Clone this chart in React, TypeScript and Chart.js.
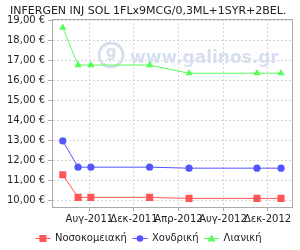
import React, { useEffect, useRef } from "react";
import { Chart, registerables } from "chart.js";

Chart.register(...registerables);

const titleText = "INFERGEN INJ SOL 1FLx9MCG/0,3ML+1SYR+2BEL.";
const dates = ["2011-05-20", "2011-07-01", "2011-08-05", "2012-01-13", "2012-04-30", "2012-11-02", "2013-01-07"];
const hospital = [11.3, 10.17, 10.17, 10.17, 10.12, 10.12, 10.12];
const wholesale = [12.99, 11.68, 11.68, 11.68, 11.63, 11.63, 11.63];
const retail = [18.65, 16.78, 16.78, 16.78, 16.37, 16.37, 16.37];
const seriesNames = ["Νοσοκομειακή", "Χονδρική", "Λιανική"];
const tickDates = ["2011-08-01", "2011-12-01", "2012-04-01", "2012-08-01", "2012-12-01"];
const tickLabels = ["Αυγ-2011", "Δεκ-2011", "Απρ-2012", "Αυγ-2012", "Δεκ-2012"];
const yTicks = [10, 11, 12, 13, 14, 15, 16, 17, 18, 19];
const xMinDate = "2011-04-21";
const xMaxDate = "2013-02-06";

const day = (s: string) => Date.parse(s + "T00:00:00Z") / 86400000;

const colors = ["#ff5555", "#5555ff", "#55ff55"];
const styles = ["rect", "circle", "triangle"];
const radii = [5, 3.6, 4.2];

function drawMarker(ctx: CanvasRenderingContext2D, style: string, x: number, y: number) {
  ctx.beginPath();
  if (style === "rect") ctx.rect(x - 3.5, y - 3.5, 7, 7);
  else if (style === "circle") ctx.arc(x, y, 3.3, 0, Math.PI * 2);
  else {
    ctx.moveTo(x, y - 4);
    ctx.lineTo(x + 4, y + 3);
    ctx.lineTo(x - 4, y + 3);
    ctx.closePath();
  }
  ctx.fill();
}

export default function App() {
  const ref = useRef<HTMLCanvasElement>(null);
  useEffect(() => {
    document.body.style.margin = "0";
    const font = "'DejaVu Sans', sans-serif";
    const series = [hospital, wholesale, retail];
    const decor = {
      id: "decor",
      beforeDatasetsDraw(chart: any) {
        const ctx = chart.ctx;
        ctx.save();
        ctx.strokeStyle = "#d6dfee";
        ctx.fillStyle = "#d6dfee";
        ctx.lineWidth = 3;
        ctx.beginPath();
        ctx.arc(111, 55, 12, 0, Math.PI * 2);
        ctx.stroke();
        ctx.font = "bold 15px " + font;
        ctx.textAlign = "center";
        ctx.textBaseline = "middle";
        ctx.fillText("g", 111, 53);
        ctx.font = "bold 17px " + font;
        ctx.textAlign = "left";
        ctx.textBaseline = "alphabetic";
        ctx.fillText("www.galinos.gr", 130, 63);
        ctx.restore();
      },
      afterDraw(chart: any) {
        const { ctx, chartArea } = chart;
        ctx.save();
        ctx.strokeStyle = "#aaaaaa";
        ctx.lineWidth = 1;
        ctx.strokeRect(
          Math.round(chartArea.left) + 0.5,
          Math.round(chartArea.top) + 0.5,
          Math.round(chartArea.right - chartArea.left),
          Math.round(chartArea.bottom - chartArea.top)
        );
        ctx.fillStyle = "#222222";
        ctx.font = "11px " + font;
        ctx.textAlign = "left";
        ctx.textBaseline = "alphabetic";
        ctx.fillText(titleText, 10, 14);

        // legend
        ctx.font = "10px " + font;
        ctx.textBaseline = "middle";
        const iconW = 15, gapIT = 4.5, gapItems = 5.5;
        const widths = seriesNames.map((n) => iconW + gapIT + ctx.measureText(n).width);
        const total = widths.reduce((a, b) => a + b, 0) + gapItems * (seriesNames.length - 1);
        let x = 148.5 - total / 2;
        const y = 238.5;
        seriesNames.forEach((n, i) => {
          ctx.strokeStyle = colors[i];
          ctx.fillStyle = colors[i];
          ctx.beginPath();
          ctx.moveTo(x, y);
          ctx.lineTo(x + iconW, y);
          ctx.stroke();
          drawMarker(ctx, styles[i], x + iconW / 2, y);
          ctx.fillStyle = "#222222";
          ctx.fillText(n, x + iconW + gapIT, y);
          x += widths[i] + gapItems;
        });
        ctx.restore();
      },
    };
    const chart = new Chart(ref.current!, {
      type: "line",
      data: {
        datasets: series.map((vals, i) => ({
          label: seriesNames[i],
          data: vals.map((v, j) => ({ x: day(dates[j]), y: v })),
          borderColor: colors[i],
          backgroundColor: colors[i],
          borderWidth: 1,
          pointStyle: styles[i] as any,
          pointRadius: radii[i],
          pointBorderWidth: 0,
          tension: 0,
        })),
      },
      options: {
        animation: false,
        responsive: false,
        layout: { padding: { left: 4, right: 8, top: 19, bottom: 23 } },
        plugins: {
          title: { display: false },
          legend: { display: false },
          tooltip: { enabled: false },
        },
        scales: {
          x: {
            type: "linear",
            min: day(xMinDate),
            max: day(xMaxDate),
            afterBuildTicks: (axis: any) => {
              axis.ticks = tickDates.map((d) => ({ value: day(d) }));
            },
            ticks: {
              autoSkip: false,
              maxRotation: 0,
              color: "#222222",
              font: { family: font, size: 10 },
              padding: 2,
              callback: (v: any) => {
                const idx = tickDates.findIndex((d) => day(d) === v);
                return idx >= 0 ? tickLabels[idx] : "";
              },
            },
            grid: { color: "#d4d4d4", tickLength: 4, tickColor: "#aaaaaa" },
            border: { color: "#aaaaaa", dash: [2, 2] },
          },
          y: {
            min: 9.69,
            max: 19.08,
            afterBuildTicks: (axis: any) => {
              axis.ticks = yTicks.map((v) => ({ value: v }));
            },
            ticks: {
              color: "#222222",
              font: { family: font, size: 10 },
              padding: 3,
              callback: (v: any) => Number(v).toFixed(2).replace(".", ",") + " €",
            },
            grid: { color: "#d4d4d4", tickLength: 4, tickColor: "#aaaaaa" },
            border: { color: "#aaaaaa", dash: [2, 2] },
          },
        },
      } as any,
      plugins: [decor],
    });
    return () => chart.destroy();
  }, []);
  return (
    <div style={{ position: "absolute", left: 0, top: 0, width: 300, height: 250 }}>
      <canvas ref={ref} width={300} height={250} />
    </div>
  );
}
